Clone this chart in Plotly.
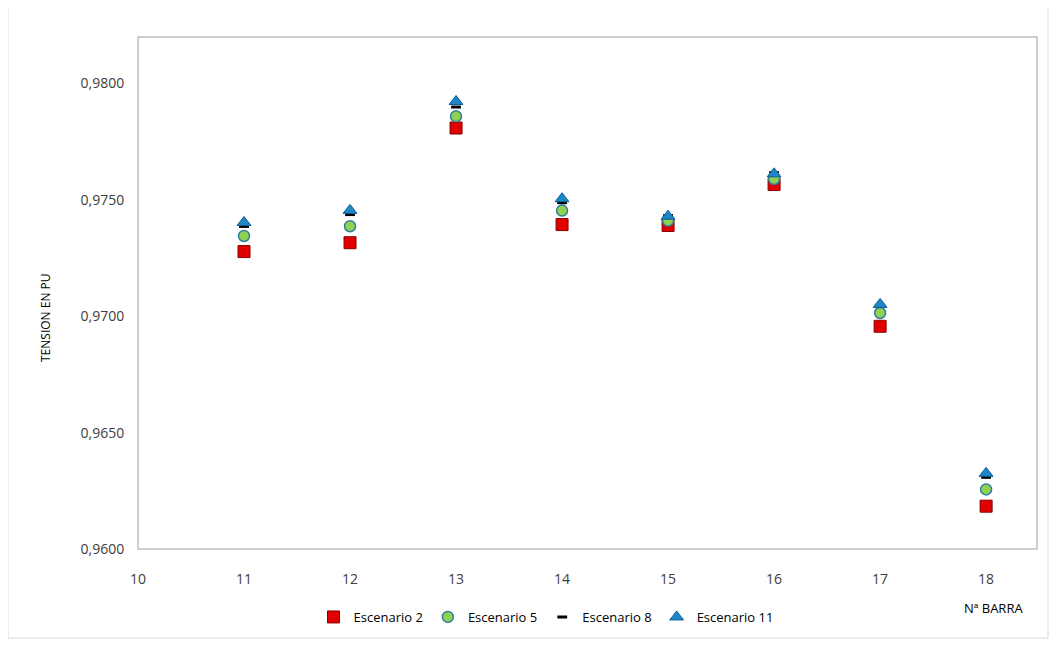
import plotly.graph_objects as go

barras = [11, 12, 13, 14, 15, 16, 17, 18]
esc2 = [0.97278, 0.97316, 0.97809, 0.97394, 0.97390, 0.97566, 0.96957, 0.96184]
esc5 = [0.97345, 0.97387, 0.97859, 0.97454, 0.97411, 0.97590, 0.97014, 0.96256]
esc8 = [0.97386, 0.97437, 0.97899, 0.97488, 0.97433, 0.97617, 0.97047, 0.96308]
esc11 = [0.97403, 0.97455, 0.97923, 0.97505, 0.97430, 0.97612, 0.97051, 0.96325]

PW, PH = 899, 512  # plot area size in px
FH = 632

fig = go.Figure()
fig.add_trace(go.Scatter(x=barras, y=esc2, mode="markers", name="Escenario 2",
                         marker=dict(symbol="square", size=12, color="#E00000",
                                     line=dict(color="#8B0000", width=1))))
fig.add_trace(go.Scatter(x=barras, y=esc5, mode="markers", name="Escenario 5",
                         marker=dict(symbol="circle", size=11, color="#92D050",
                                     line=dict(color="#2E7FA0", width=1.5))))
fig.add_trace(go.Scatter(x=barras, y=esc8, mode="markers", name="Escenario 8",
                         marker=dict(symbol="line-ew", size=7, color="black",
                                     line=dict(color="black", width=3))))
fig.add_trace(go.Scatter(x=barras, y=esc11, mode="markers", name="Escenario 11",
                         marker=dict(symbol="triangle-up", size=12, color="#1F86C8",
                                     line=dict(color="#0B5E96", width=1))))

fig.update_layout(
    width=1042, height=FH,
    margin=dict(l=130, r=13, t=29, b=91, autoexpand=False),
    paper_bgcolor="white", plot_bgcolor="white",
    separators=",.",
    font=dict(family="Open Sans, Liberation Sans, sans-serif", color="#404040", size=13),
    showlegend=True,
    legend=dict(orientation="h", x=(546 - 138) / PW, xanchor="center",
                yref="container", y=1 - (602 - 8) / FH, yanchor="top",
                font=dict(size=13, color="#000000"), itemwidth=30, tracegroupgap=0),
    xaxis=dict(range=[10, 18.48], tick0=10, dtick=1, showgrid=False, zeroline=False,
               showline=False, ticks="outside", ticklen=17, tickcolor="rgba(0,0,0,0)",
               tickfont=dict(size=14, color="#404040"), automargin=False),
    yaxis=dict(range=[0.96, 0.982], tick0=0.96, dtick=0.005, tickformat=".4f",
               showgrid=False, zeroline=False, showline=False,
               ticks="outside", ticklen=10, tickcolor="rgba(0,0,0,0)",
               tickfont=dict(size=14, color="#404040"), automargin=False),
    shapes=[
        dict(type="rect", xref="paper", yref="paper", x0=0, x1=1, y0=0, y1=1,
             line=dict(color="#BFBFBF", width=1.5)),
        dict(type="rect", xref="paper", yref="paper",
             x0=-(138 - 8) / PW, x1=1 + (1048 - 1037) / PW,
             y0=-(638 - 549) / PH, y1=1 + (37 - 7) / PH,
             line=dict(color="#D9D9D9", width=1)),
    ],
    annotations=[
        dict(text="TENSION EN PU", xref="paper", yref="paper",
             x=(45 - 138) / PW, y=(549 - 318) / PH, textangle=-90,
             xanchor="center", yanchor="middle", showarrow=False,
             font=dict(size=12, color="#000000", family="Liberation Sans Narrow, Open Sans, sans-serif")),
        dict(text="Nª BARRA", xref="paper", yref="paper", x=(993 - 138) / PW,
             y=-(608 - 549) / PH, xanchor="center", yanchor="middle", showarrow=False,
             font=dict(size=13, color="#000000")),
    ],
)

fig.write_html("out.html")
